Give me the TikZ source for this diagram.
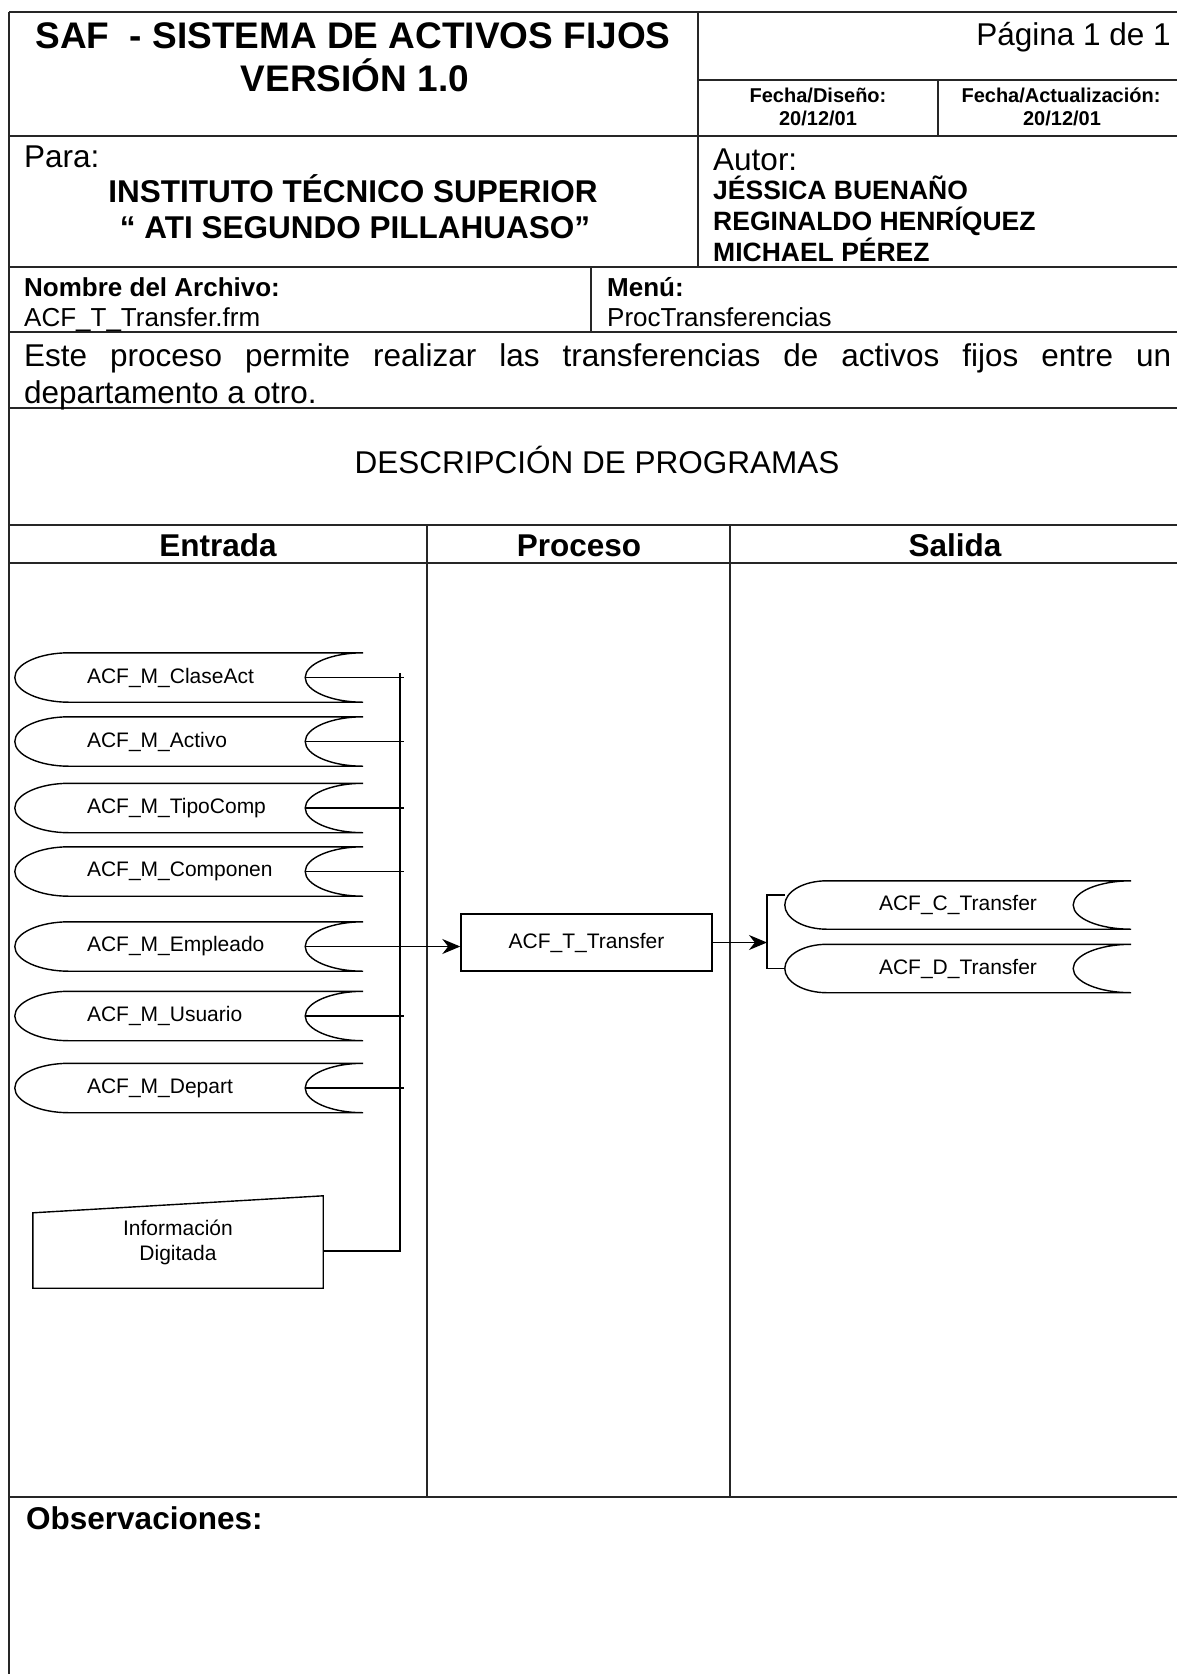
\documentclass[tikz,border=0pt]{standalone}
\usepackage{fontspec}
\setmainfont{Liberation Sans}
\usetikzlibrary{arrows.meta}

\begin{document}
\begin{tikzpicture}[x=1pt, y=-1pt,
    rule/.style={line width=1.8pt, black!85},
    thinrule/.style={line width=1.1pt, black!85},
    lbl/.style={inner sep=0pt},
    head/.style={lbl, font=\bfseries\fontsize{37}{44}\selectfont},
    body/.style={lbl, font=\fontsize{31.5}{37}\selectfont},
    bodyb/.style={lbl, font=\bfseries\fontsize{31.5}{37}\selectfont},
    datebox/.style={lbl, font=\bfseries\fontsize{20}{24}\selectfont},
    author/.style={lbl, font=\bfseries\fontsize{26.5}{31}\selectfont},
    file/.style={lbl, font=\fontsize{26}{31}\selectfont},
    fileb/.style={lbl, font=\bfseries\fontsize{26}{31}\selectfont},
    outline/.style={line width=1.4pt},
    store/.style={inner sep=0pt, minimum width=348pt, minimum height=49pt,
      font=\fontsize{21}{25}\selectfont},
    instore/.style={store, text width=204pt, inner xsep=72pt, align=left},
    proc/.style={outline, draw, inner sep=0pt, minimum width=251pt,
      minimum height=57pt, font=\fontsize{21}{25}\selectfont},
    manual/.style={inner sep=0pt, minimum width=290pt, minimum height=92pt,
      align=center, font=\fontsize{21}{25}\selectfont},
    flow/.style={line width=1.3pt},
    arrow/.style={flow, -{Stealth[length=18pt, width=15pt]}}]
  \useasboundingbox (0,0) rectangle (1177,1674);

  % cuadricula del formulario
  \draw[rule] (9,12) -- (1180,12);
  \draw[thinrule] (9,12) -- (9,1680);
  \foreach \y in {136,267,332,408,525,563,1497}
    \draw[rule] (9,\y) -- (1180,\y);
  \draw[rule] (698,80) -- (1180,80);
  \draw[rule] (698,12) -- (698,267);
  \draw[rule] (938,80) -- (938,136);
  \draw[rule] (591,267) -- (591,332);
  \draw[thinrule] (427,525) -- (427,1497);
  \draw[thinrule] (730,525) -- (730,1497);

  \node[head, anchor=base] (tit1) at (353,48) {SAF \ - SISTEMA DE ACTIVOS FIJOS};
  \node[head, anchor=base] (tit2) at (355,91) {VERSIÓN 1.0};
  \node[body, anchor=base east] (pag) at (1171,45) {Página 1 de 1};
  \node[datebox, anchor=base] (fd) at (818,102) {Fecha/Diseño:};
  \node[datebox, anchor=base] (fdv) at (818,125) {20/12/01};
  \node[datebox, anchor=base] (fa) at (1061,102) {Fecha/Actualización:};
  \node[datebox, anchor=base] (fav) at (1062,125) {20/12/01};
  \node[body, anchor=base west] (para) at (24,167) {Para:};
  \node[bodyb, anchor=base] (inst1) at (353,202) {INSTITUTO TÉCNICO SUPERIOR};
  \node[bodyb, anchor=base] (inst2) at (355,238) {“ ATI SEGUNDO PILLAHUASO”};
  \node[body, anchor=base west] (autor) at (713,170) {Autor:};
  \node[author, anchor=base west] (au1) at (713,199) {JÉSSICA BUENAÑO};
  \node[author, anchor=base west] (au2) at (713,230) {REGINALDO HENRÍQUEZ};
  \node[author, anchor=base west] (au3) at (713,261) {MICHAEL PÉREZ};
  \node[fileb, anchor=base west] (narch) at (24,296) {Nombre del Archivo:};
  \node[file, anchor=base west] (arch) at (24,326) {ACF\_T\_Transfer.frm};
  \node[fileb, anchor=base west] (nmenu) at (607,296) {Menú:};
  \node[file, anchor=base west] (menu) at (607,326) {ProcTransferencias};
  \node[body, anchor=base west] (obj1) at (24,366)
    {\makebox[1147pt][s]{Este proceso permite realizar las transferencias de activos fijos entre un}};
  \node[body, anchor=base west] (obj2) at (24,403) {departamento a otro.};
  \node[body, anchor=base] (dp) at (597,473) {DESCRIPCIÓN DE PROGRAMAS};
  \node[bodyb, anchor=base] (ent) at (218,556) {Entrada};
  \node[bodyb, anchor=base] (pro) at (579,556) {Proceso};
  \node[bodyb, anchor=base] (sal) at (955,556) {Salida};
  \node[bodyb, anchor=base west] (obs) at (26,1529) {Observaciones:};

  % archivos de entrada
  \foreach \n/\t/\y in {cla/ACF\_M\_ClaseAct/677.5, act/ACF\_M\_Activo/741.5,
      tip/ACF\_M\_TipoComp/808, com/ACF\_M\_Componen/871.5,
      emp/ACF\_M\_Empleado/946.5, usu/ACF\_M\_Usuario/1016, dep/ACF\_M\_Depart/1088}
    \node[instore] (\n) at (189,\y) {\t};
  \node[proc] (trf) at (586.5,942.5) {ACF\_T\_Transfer};
  \node[store, minimum width=346pt, minimum height=48pt] (ctr) at (958,905) {ACF\_C\_Transfer};
  \node[store, minimum width=346pt, minimum height=48pt] (dtr) at (958,968.5) {ACF\_D\_Transfer};
  \node[manual] (info) at (178,1242) {Información\\Digitada};

  % contornos
  \foreach \n/\a in {cla/54,act/54,tip/54,com/54,emp/54,usu/54,dep/54,ctr/42,dtr/42}
    \draw[outline] ([xshift=\a pt]\n.north west) -- (\n.north east)
      .. controls +(-32,0) and +(0,-13.5) .. ([xshift=-58pt]\n.east)
      .. controls +(0,13.5) and +(-32,0) .. (\n.south east)
      -- ([xshift=\a pt]\n.south west)
      .. controls +({-0.55*\a},0) and +(0,13.5) .. (\n.west)
      .. controls +(0,-13.5) and +({-0.55*\a},0) .. ([xshift=\a pt]\n.north west);
  \draw[outline] ([yshift=-17pt]info.north west) -- (info.north east)
    -- (info.south east) -- (info.south west) -- cycle;

  % conexiones
  \coordinate (bus) at (400,673);
  \foreach \n in {cla,act,tip,com,usu,dep}
    \draw[flow] ([xshift=-58pt]\n.east) -- (\n.east -| bus) -- ++(4,0);
  \draw[flow] ([yshift=-9pt]info.east) -| (bus);
  \draw[arrow] ([xshift=-58pt]emp.east) -- (emp.east -| trf.west);
  \coordinate (split) at (767,942.5);
  \draw[arrow] (trf.east) -- (split);
  \draw[flow] ([yshift=10pt]ctr.west) -| (split) |- (dtr.west);
\end{tikzpicture}
\end{document}
